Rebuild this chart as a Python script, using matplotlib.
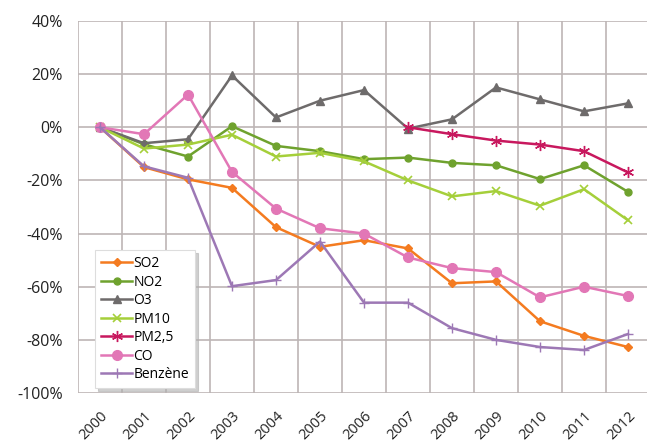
import numpy as np
import matplotlib
matplotlib.use("Agg")
import matplotlib.pyplot as plt
from matplotlib.transforms import ScaledTranslation

plt.rcParams['font.family'] = ['Open Sans', 'DejaVu Sans']

years = ['2000', '2001', '2002', '2003', '2004', '2005', '2006',
         '2007', '2008', '2009', '2010', '2011', '2012']

so2 = [0, -15, -19.6, -22.8, -37.6, -45, -42.5, -45.6, -58.7, -58, -73, -78.5, -82.7]
no2 = [0, -6.4, -11, 0.4, -7, -9, -12, -11.4, -13.4, -14.3, -19.5, -14.3, -24.3]
o3 = [0, -6, -4.5, 19.5, 3.7, 10, 14, -0.5, 3, 15, 10.5, 6, 9]
pm10 = [0, -8, -6.5, -2.8, -11, -9.6, -12.8, -20, -26, -24, -29.5, -23.3, -35]
pm25 = [np.nan] * 7 + [0, -2.6, -5, -6.5, -9, -17]
co = [0, -2.6, 12.3, -16.8, -30.6, -38, -40, -49, -53, -54.5, -64, -60, -63.5]
benzene = [0, -14.7, -19, -59.8, -57.5, -43, -66, -66, -75.6, -80, -82.7, -83.8, -77.8]

fig = plt.figure(figsize=(6.47, 4.44), dpi=100)
W, H = 647, 444
ax = fig.add_axes([78 / W, (H - 393) / H, (650 - 78) / W, (393 - 21) / H])

x = np.arange(len(years))

ax.plot(x, so2, color='#f47b20', lw=1.8, marker='D', ms=4, label='SO2')
ax.plot(x, no2, color='#6fa22e', lw=1.8, marker='o', ms=5, label='NO2')
ax.plot(x, o3, color='#6e6b6b', lw=1.8, marker='^', ms=6, label='O3')
ax.plot(x, pm10, color='#a5cf3a', lw=1.8, marker='x', ms=6, mew=1.2, label='PM10')
ax.plot(x, pm25, color='#c8185e', lw=1.8, marker=(6, 2, 0), ms=8, mew=1.0, label='PM2,5')
ax.plot(x, co, color='#e277b6', lw=1.8, marker='o', ms=7, label='CO')
ax.plot(x, benzene, color='#9d78b5', lw=1.8, marker='+', ms=7, mew=1.0, label='Benzène')

ax.set_xlim(-0.5, len(years) - 0.5)
ax.set_ylim(-100, 40)
ax.set_yticks(np.arange(-100, 41, 20))
ax.set_yticklabels([f'{v}%' for v in range(-100, 41, 20)], fontsize=11.5, color='#222222')
ax.set_xticks(x)
ax.set_xticklabels(years, rotation=45, ha='right', va='top', rotation_mode='anchor',
                   fontsize=10.5, color='#222222')
shift = ScaledTranslation(-0.06, 0, fig.dpi_scale_trans)
for lab in ax.get_xticklabels():
    lab.set_transform(lab.get_transform() + shift)
ax.set_xticks(np.arange(-0.5, len(years), 1), minor=True)
ax.tick_params(axis='both', which='both', length=0)
ax.tick_params(axis='y', pad=11)
ax.tick_params(axis='x', pad=11)

ax.grid(True, axis='y', which='major', color='#bdb5b5', lw=1.2)
ax.grid(True, axis='x', which='minor', color='#bdb5b5', lw=1.2)
ax.set_axisbelow(True)
for s in ax.spines.values():
    s.set_visible(False)

leg = ax.legend(loc='upper left', bbox_to_anchor=(95 / W, 1 - 250 / H),
                bbox_transform=fig.transFigure, fontsize=10, frameon=True,
                fancybox=False, shadow={'color': '#b0b0b0', 'alpha': 0.6},
                handlelength=2.2, handletextpad=0.1,
                labelspacing=0.25, borderpad=0.45, borderaxespad=0)
leg.get_frame().set_edgecolor('#dddddd')
leg.get_frame().set_linewidth(0.8)

fig.savefig('out.png', dpi=100)
